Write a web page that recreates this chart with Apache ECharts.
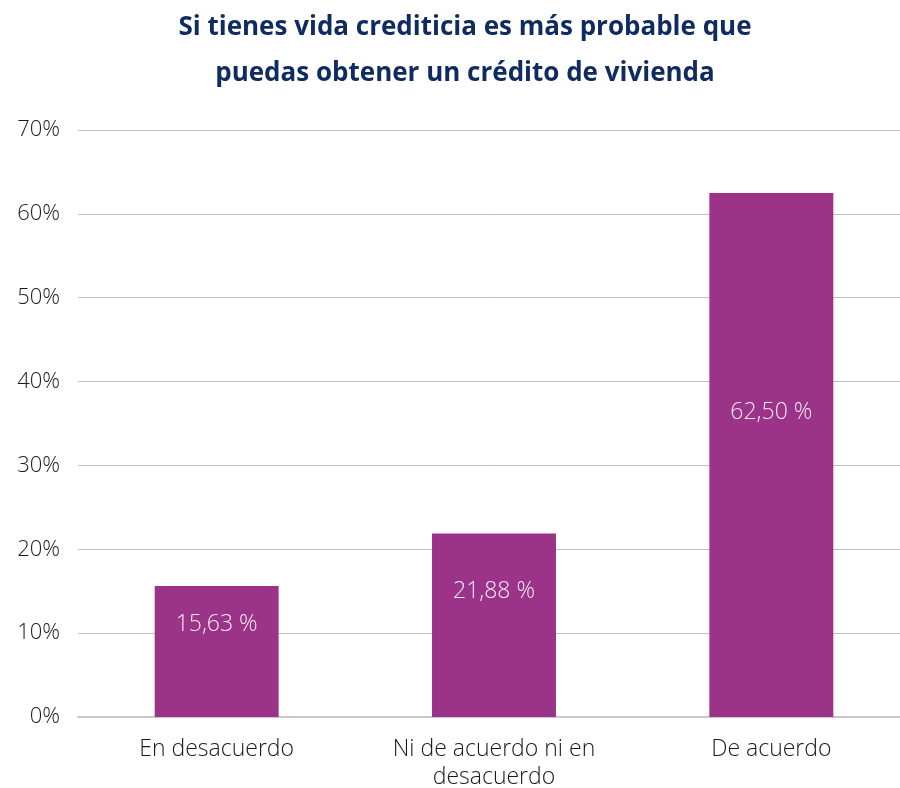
<!DOCTYPE html>
<html>
<head>
<meta charset="utf-8">
<script src="https://cdn.jsdelivr.net/npm/echarts@6/dist/echarts.min.js"></script>
<style>
  html, body { margin: 0; padding: 0; background: #ffffff; }
  #chart { width: 900px; height: 788px; }
</style>
</head>
<body>
<div id="chart"></div>
<script>
// Survey answers and their shares (%)
var categories = ['En desacuerdo', 'Ni de acuerdo ni en\ndesacuerdo', 'De acuerdo'];
var shares = [15.63, 21.88, 62.50];
// Vertical placement of each value label inside its bar (px from the bar top)
var labelOffsets = [39, 58, 220];

var chart = echarts.init(document.getElementById('chart'), null, { renderer: 'canvas' });

var font = '"Open Sans", "Noto Sans", sans-serif';

chart.setOption({
  animation: false,
  backgroundColor: '#ffffff',
  title: {
    text: 'Si tienes vida crediticia es más probable que\npuedas obtener un crédito de vivienda',
    left: 460,
    textAlign: 'center',
    top: 0,
    textStyle: {
      fontFamily: font,
      fontWeight: 'bold',
      fontSize: 26,
      lineHeight: 46,
      color: '#0f2b5f'
    }
  },
  grid: { left: 78, width: 832, top: 130, height: 587, containLabel: false, outerBoundsMode: 'none' },
  xAxis: {
    type: 'category',
    data: categories,
    axisLine: { show: true, lineStyle: { color: '#c8c8c8', width: 2 } },
    axisTick: { show: false },
    axisLabel: {
      fontFamily: font,
      fontWeight: 300,
      fontSize: 23,
      lineHeight: 28,
      color: '#1a1a1a',
      margin: 18,
      interval: 0
    }
  },
  yAxis: {
    type: 'value',
    min: 0,
    max: 70,
    interval: 10,
    axisLine: { show: false },
    axisTick: { show: false },
    splitLine: { lineStyle: { color: '#bfbfbf', width: 1 } },
    axisLabel: {
      fontFamily: font,
      fontWeight: 300,
      fontSize: 22,
      color: '#1a1a1a',
      margin: 18,
      formatter: '{value}%'
    }
  },
  series: [{
    type: 'bar',
    barWidth: '44.7%',
    data: shares.map(function (v, i) {
      return {
        value: v,
        label: { position: ['50%', labelOffsets[i]] }
      };
    }),
    itemStyle: { color: '#9b3388' },
    label: {
      show: true,
      align: 'center',
      verticalAlign: 'middle',
      fontFamily: font,
      fontWeight: 300,
      fontSize: 23,
      color: '#f4e8f2',
      formatter: function (p) {
        return p.value.toFixed(2).replace('.', ',') + ' %';
      }
    }
  }]
});
</script>
</body>
</html>
